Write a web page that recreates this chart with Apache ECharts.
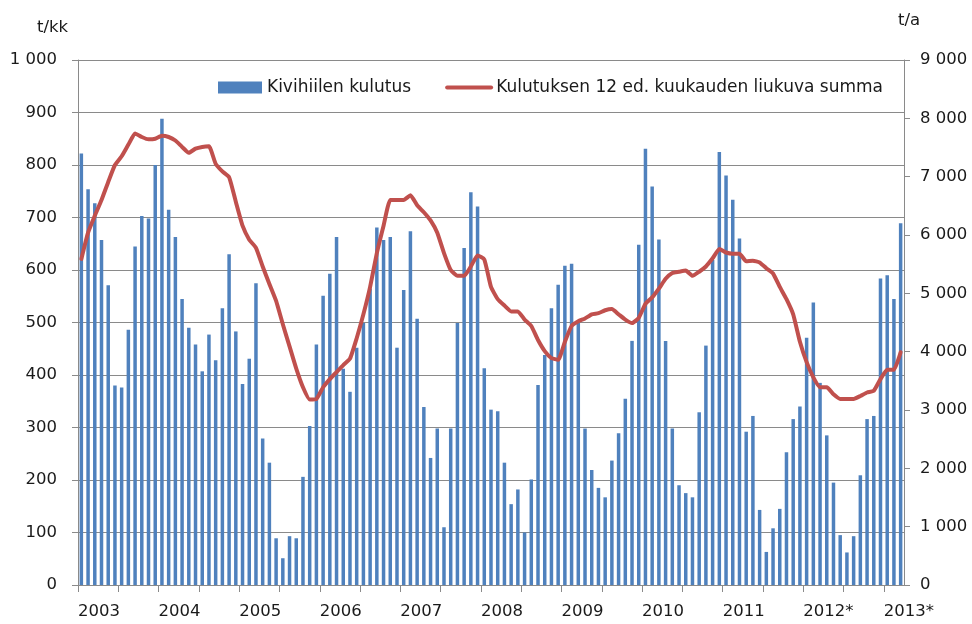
<!DOCTYPE html>
<html>
<head>
<meta charset="utf-8">
<script src="https://cdn.jsdelivr.net/npm/echarts@6/dist/echarts.min.js"></script>
<style>
html,body{margin:0;padding:0;background:#fff;}
#chart{width:972px;height:624px;}
</style>
</head>
<body>
<div id="chart"></div>
<script>
// Year tick labels (one per 12 months, starting Jan 2003)
const yearLabels = ['2003','2004','2005','2006','2007','2008','2009','2010','2011','2012*','2013*'];

// Monthly categories Jan 2003 .. Mar 2013
const months = [];
for (let y = 2003; y <= 2013; y++) {
  for (let m = 1; m <= 12; m++) {
    if (y === 2013 && m > 3) break;
    months.push(y + '-' + (m < 10 ? '0' + m : m));
  }
}

// Kivihiilen kulutus, t/kk (left axis)
const consumption = [
  822, 754, 727, 657, 571, 380, 376, 486, 645, 703, 698, 800,   // 2003
  888, 715, 663, 545, 490, 458, 407, 477, 428, 527, 630, 483,   // 2004
  383, 431, 575, 279, 233,  89,  51,  93,  89, 206, 303, 458,   // 2005
  551, 593, 663, 412, 368, 452, 499, 565, 681, 657, 663, 452,   // 2006
  562, 674, 507, 339, 242, 298, 110, 298, 499, 642, 748, 721,   // 2007
  413, 334, 331, 233, 154, 182, 100, 201, 381, 438, 527, 572,   // 2008
  608, 612, 499, 298, 219, 185, 167, 237, 289, 355, 465, 648,   // 2009
  831, 759, 658, 465, 298, 190, 175, 167, 329, 456, 619, 825,   // 2010
  780, 734, 660, 292, 322, 143,  63, 108, 145, 253, 316, 340,   // 2011
  471, 538, 385, 285, 195,  95,  62,  93, 209, 316, 322, 584,   // 2012
  590, 545, 689                                                  // 2013
];

// Kulutuksen 12 ed. kuukauden liukuva summa, t/a (right axis)
const rollingSum = [
  5590, 6040, 6330, 6600, 6910, 7200, 7350, 7550, 7740, 7680, 7640, 7650,  // 2003
  7700, 7680, 7620, 7510, 7410, 7480, 7510, 7520, 7220, 7090, 6990, 6570,  // 2004
  6160, 5920, 5780, 5460, 5160, 4870, 4470, 4090, 3710, 3390, 3180, 3190,  // 2005
  3390, 3530, 3650, 3770, 3880, 4230, 4640, 5110, 5690, 6160, 6600, 6600,  // 2006
  6600, 6680, 6510, 6390, 6250, 6040, 5690, 5400, 5300, 5300, 5460, 5650,  // 2007
  5580, 5110, 4900, 4790, 4690, 4690, 4550, 4440, 4200, 4010, 3890, 3860,  // 2008
  4170, 4440, 4520, 4570, 4640, 4660, 4710, 4730, 4640, 4550, 4490, 4580,  // 2009
  4820, 4930, 5080, 5250, 5350, 5370, 5390, 5300, 5370, 5460, 5600, 5760,  // 2010
  5700, 5680, 5680, 5550, 5560, 5530, 5430, 5340, 5110, 4900, 4640, 4170,  // 2011
  3820, 3560, 3390, 3390, 3270, 3190, 3190, 3190, 3240, 3300, 3330, 3530,  // 2012
  3690, 3690, 3990                                                          // 2013
];

const FONT = 'DejaVu Sans';
const TXT = '#1a1a1a';
const GRID = '#8a8a8a';

function thousands(v) {
  const s = String(Math.round(v));
  return s.length > 3 ? s.slice(0, s.length - 3) + ' ' + s.slice(-3) : s;
}

const chart = echarts.init(document.getElementById('chart'), null, {renderer: 'canvas'});
chart.setOption({
  animation: false,
  backgroundColor: '#ffffff',
  grid: {left: 78, right: 68, top: 60, bottom: 39, containLabel: false},
  legend: {
    left: 213, top: 74,
    itemWidth: 44, itemHeight: 12, itemGap: 34,
    textStyle: {fontFamily: FONT, fontSize: 17, color: TXT},
    data: [
      {name: 'Kivihiilen kulutus', icon: 'rect'},
      {name: 'Kulutuksen 12 ed. kuukauden liukuva summa', itemStyle: {opacity: 0}, lineStyle: {width: 4, color: '#c0504d'}}
    ]
  },
  graphic: [
    {type: 'text', left: 37, top: 19, style: {text: 't/kk', font: '16.5px "DejaVu Sans"', fill: TXT}},
    {type: 'text', left: 898, top: 12, style: {text: 't/a', font: '16.5px "DejaVu Sans"', fill: TXT}}
  ],
  xAxis: [
    {
      type: 'category', data: months, boundaryGap: true, show: false
    },
    {
      type: 'value', min: 0, max: months.length, interval: 6,
      position: 'bottom',
      axisLine: {show: true, lineStyle: {color: GRID, width: 1}},
      axisTick: {show: true, inside: false, length: 7, lineStyle: {color: GRID}},
      splitLine: {show: false},
      axisLabel: {
        show: true, align: 'left', margin: 18,
        fontFamily: FONT, fontSize: 16.5, color: TXT,
        showMaxLabel: false,
        formatter: function (v) {
          if (v % 12 !== 0) return '';
          const i = v / 12;
          return yearLabels[i] || '';
        }
      }
    }
  ],
  yAxis: [
    {
      type: 'value', min: 0, max: 1000, interval: 100,
      axisLine: {show: true, lineStyle: {color: GRID}},
      axisTick: {show: true, length: 6, lineStyle: {color: GRID}},
      splitLine: {show: true, lineStyle: {color: GRID, width: 1}},
      axisLabel: {margin: 21, fontFamily: FONT, fontSize: 16.5, color: TXT, formatter: thousands}
    },
    {
      type: 'value', min: 0, max: 9000, interval: 1000,
      position: 'right',
      axisLine: {show: true, lineStyle: {color: GRID}},
      axisTick: {show: true, length: 6, lineStyle: {color: GRID}},
      splitLine: {show: false},
      axisLabel: {margin: 16, fontFamily: FONT, fontSize: 16.5, color: TXT, formatter: thousands}
    }
  ],
  series: [
    {
      name: 'Kivihiilen kulutus', type: 'bar',
      xAxisIndex: 0, yAxisIndex: 0,
      data: consumption, barWidth: '52%',
      itemStyle: {color: '#4f81bd'}
    },
    {
      name: 'Kulutuksen 12 ed. kuukauden liukuva summa', type: 'line',
      xAxisIndex: 0, yAxisIndex: 1,
      data: rollingSum, symbol: 'none', smooth: 0.15,
      lineStyle: {color: '#c0504d', width: 4, join: 'round', cap: 'round'},
      itemStyle: {color: '#c0504d'}
    }
  ]
});
</script>
</body>
</html>
